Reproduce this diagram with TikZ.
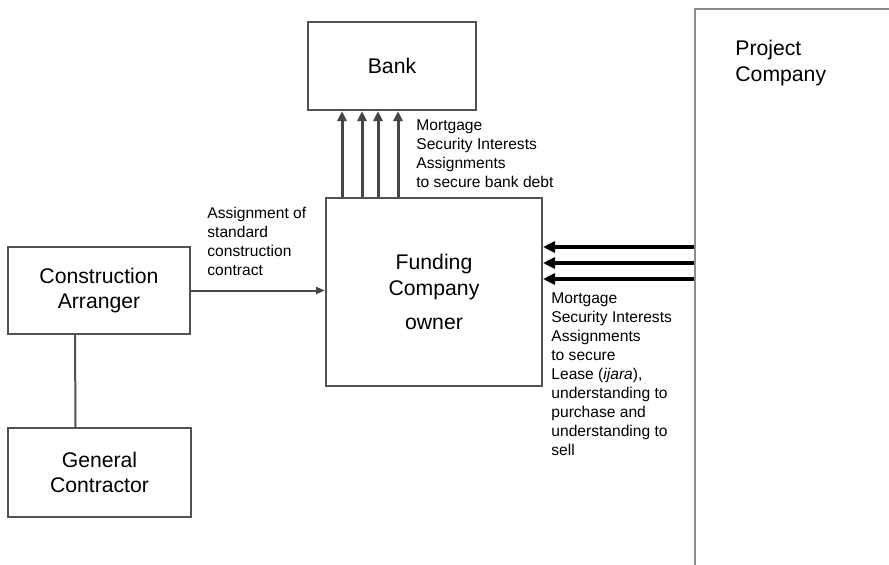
\documentclass[tikz,border=0pt]{standalone}
\usepackage{fontspec}
\setmainfont{Liberation Sans}
\usetikzlibrary{arrows.meta}

\begin{document}
\begin{tikzpicture}[x=0.5pt,y=-0.5pt,
    party/.style={draw=black!68,line width=1pt,font=\fontsize{10.6}{12.8}\selectfont,align=center},
    note/.style={font=\fontsize{7.8}{9.5}\selectfont,align=left,inner sep=0pt},
    bankarrow/.style={draw=black!72,line width=1.5pt,-{Triangle[length=5pt,width=4.5pt]}},
    projarrow/.style={draw=black,line width=1.6pt,-{Triangle[length=6pt,width=5.5pt]}},
    linkarrow/.style={draw=black!72,line width=1pt,-{Triangle[length=4.5pt,width=3.5pt]}}]
  \useasboundingbox (0,0) rectangle (889,564);
  \node[party,minimum width=84pt,minimum height=44pt] (bank) at (392,66) {Bank};
  \node[party,minimum width=108pt,minimum height=94pt] (fund) at (434,292) {Funding\\Company\\[4pt]owner};
  \node[party,minimum width=91pt,minimum height=43.5pt] (ca) at (99,290.5) {Construction\\Arranger};
  \node[party,minimum width=91.5pt,minimum height=44.5pt] (gc) at (99.5,472.5) {General\\Contractor};
  \node[draw=black!45,line width=1.2pt,minimum width=110pt,minimum height=300pt,anchor=north west] (proj) at (694,8) {};
  \node[font=\fontsize{10.6}{13}\selectfont,align=left,inner sep=0pt,anchor=north west] (projlbl) at (735,40) {Project\\Company};
  \path
    (ca.east) edge[linkarrow] (fund.west |- ca.east);
  \draw[draw=black!68,line width=1pt] ([xshift=-12pt]ca.south) -- ([xshift=-12pt]gc.north);
  \foreach \x in {342,362,378,398}
    \draw[bankarrow] (fund.north -| \x,0) -- (bank.south -| \x,0);
  \foreach \y in {247,263,279}
    \draw[projarrow] (proj.west |- 0,\y) -- (fund.east |- 0,\y);
  \node[note,anchor=north west] (banklbl) at (416,119) {Mortgage\\Security Interests\\Assignments\\to secure bank debt};
  \node[note,anchor=north west] (assignlbl) at (207,207) {Assignment of\\standard\\construction\\contract};
  \node[note,anchor=north west] (projnote) at (551,292) {Mortgage\\Security Interests\\Assignments\\to secure\\Lease (\textit{ijara}),\\understanding to\\purchase and\\understanding to\\sell};
\end{tikzpicture}
\end{document}
